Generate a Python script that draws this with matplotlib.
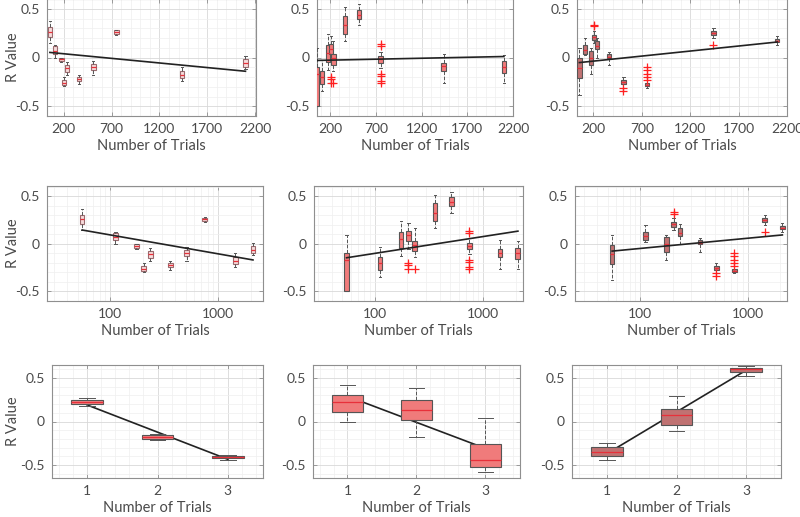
import numpy as np
import matplotlib
matplotlib.use('Agg')
import matplotlib.pyplot as plt
from matplotlib.ticker import MultipleLocator, FixedLocator, NullFormatter

plt.rcParams['font.family'] = ['Lato', 'DejaVu Sans']

# number of trials for each dataset
trials = [55, 112, 175, 205, 235, 360, 510, 750, 1440, 2100]

# dataset A (left column)
a_lo = [0.15, 0.0, -0.05, -0.29, -0.175, -0.27, -0.175, 0.23, -0.24, -0.115]
a_q1 = [0.21, 0.04, -0.04, -0.28, -0.15, -0.245, -0.125, 0.242, -0.215, -0.10]
a_med = [0.26, 0.07, -0.02, -0.26, -0.11, -0.22, -0.10, 0.26, -0.18, -0.06]
a_q3 = [0.31, 0.12, -0.005, -0.23, -0.075, -0.20, -0.065, 0.277, -0.14, -0.02]
a_hi = [0.37, 0.13, 0.0, -0.20, -0.045, -0.18, -0.035, 0.28, -0.10, 0.015]
a_out = [[], [], [], [], [], [], [], [], [], []]

# dataset B (middle column)
b_lo = [-0.5, -0.345, -0.125, -0.05, -0.135, 0.165, 0.33, -0.105, -0.265, -0.265]
b_q1 = [-0.5, -0.275, -0.045, 0.035, -0.075, 0.245, 0.40, -0.055, -0.14, -0.16]
b_med = [-0.17, -0.20, 0.05, 0.09, -0.01, 0.33, 0.44, -0.02, -0.09, -0.10]
b_q3 = [-0.10, -0.14, 0.13, 0.137, 0.035, 0.43, 0.49, 0.015, -0.055, -0.04]
b_hi = [0.095, -0.03, 0.24, 0.22, 0.165, 0.52, 0.55, 0.06, 0.04, 0.03]
b_out = [[], [], [], [-0.2, -0.22, -0.26], [-0.26], [], [],
         [0.14, 0.12, -0.17, -0.19, -0.24, -0.26], [], []]

# dataset C (right column)
c_lo = [-0.38, 0.025, -0.17, 0.145, 0.0, -0.08, -0.275, -0.31, 0.20, 0.13]
c_q1 = [-0.21, 0.04, -0.08, 0.18, 0.085, -0.005, -0.27, -0.29, 0.235, 0.155]
c_med = [-0.11, 0.08, 0.0, 0.21, 0.12, 0.01, -0.25, -0.28, 0.25, 0.17]
c_q3 = [-0.01, 0.13, 0.07, 0.235, 0.17, 0.04, -0.23, -0.26, 0.27, 0.19]
c_hi = [0.095, 0.20, 0.095, 0.27, 0.205, 0.06, -0.20, -0.26, 0.30, 0.22]
c_out = [[], [], [], [0.32, 0.335], [], [], [-0.31, -0.34],
         [-0.1, -0.13, -0.17, -0.2, -0.23], [0.125], []]

# trend lines (value at first and last trial count)
lin_fit = [[0.052, -0.141], [-0.03, 0.01], [-0.052, 0.159]]
log_fit = [[0.147, -0.168], [-0.145, 0.135], [-0.075, 0.095]]

# grouped data (bottom row), groups 1..3
groups = [1, 2, 3]
g_lo = [[0.18, -0.21, -0.44], [0.0, -0.175, -0.58], [-0.44, -0.115, 0.52]]
g_q1 = [[0.20, -0.20, -0.42], [0.115, 0.023, -0.52], [-0.40, -0.045, 0.57]]
g_med = [[0.22, -0.18, -0.41], [0.22, 0.135, -0.445], [-0.35, 0.08, 0.60]]
g_q3 = [[0.248, -0.16, -0.395], [0.30, 0.25, -0.26], [-0.29, 0.145, 0.62]]
g_hi = [[0.267, -0.145, -0.39], [0.42, 0.39, 0.045], [-0.25, 0.29, 0.64]]
g_fit = [[0.19, -0.435], [0.29, -0.31], [-0.37, 0.59]]

col_data = [(a_lo, a_q1, a_med, a_q3, a_hi, a_out),
            (b_lo, b_q1, b_med, b_q3, b_hi, b_out),
            (c_lo, c_q1, c_med, c_q3, c_hi, c_out)]

face_top = ['#f7dcdc', '#f07b7b', '#c07272']
edge_top = ['#9a6a6e', '#555555', '#555555']
face_bottom = ['#f08585', '#f07b7b', '#c07272']

W, H = 800, 517
# axes boxes in pixels: left, right, top, bottom
boxes_px = [
    [(47, 256, -1, 116), (317, 513, -1, 116), (577, 787, -1, 116)],
    [(47, 263, 186, 301), (314, 523, 186, 301), (575, 787, 186, 301)],
    [(52, 263, 365, 478), (313, 520, 365, 478), (572, 781, 365, 478)],
]
xlims_lin = [(25, 2210), (55, 2200), (30, 2200)]
xlims_log = [(26, 2600), (27.5, 2340), (24.8, 2320)]

text_c = '#4a4a4a'

fig = plt.figure(figsize=(W / 100, H / 100), dpi=100)


def style_axes(ax):
    for s in ax.spines.values():
        s.set_color('#8f8f8f')
        s.set_linewidth(0.8)
    ax.tick_params(which='major', direction='in', length=3, width=0.6,
                   color='#8f8f8f', labelcolor=text_c, labelsize=10,
                   top=True, right=True, pad=5)
    ax.tick_params(which='minor', length=0, top=True, right=True)
    ax.grid(True, which='major', color='#d8d8d8', linewidth=0.6)
    ax.grid(True, which='minor', color='#efefef', linewidth=0.5)
    ax.set_axisbelow(True)
    ax.set_xlabel('Number of Trials', fontsize=10.5, color=text_c, labelpad=3)


def add_ylabel(ax, row):
    l, r, t, b = boxes_px[row][0]
    ax.set_ylabel('R Value', fontsize=10.5, color=text_c)
    ax.yaxis.set_label_coords((20 - l) / (r - l), 0.5)


def draw_boxes(ax, pos, lo, q1, med, q3, hi, out, widths, face, edge, zorder=3):
    stats = []
    for i in range(len(pos)):
        stats.append(dict(whislo=lo[i], q1=q1[i], med=med[i], q3=q3[i],
                          whishi=hi[i], fliers=out[i]))
    ax.bxp(stats, positions=pos, widths=widths, capwidths=[w * 0.5 for w in widths],
           patch_artist=True, manage_ticks=False, zorder=zorder,
           boxprops=dict(facecolor=face, edgecolor=edge, linewidth=0.8),
           medianprops=dict(color='#e8303a', linewidth=0.9),
           whiskerprops=dict(color='#555555', linestyle='--', linewidth=0.7),
           capprops=dict(color='#555555', linewidth=0.7),
           flierprops=dict(marker='+', markeredgecolor='#ff2020', markersize=6,
                           markeredgewidth=0.9))


def make_ax(row, col):
    l, r, t, b = boxes_px[row][col]
    return fig.add_axes([l / W, 1 - b / H, (r - l) / W, (b - t) / H])


for col in range(3):
    lo, q1, med, q3, hi, out = col_data[col]

    # top row: linear x
    ax = make_ax(0, col)
    style_axes(ax)
    draw_boxes(ax, trials, lo, q1, med, q3, hi, out, [45] * len(trials),
               face_top[col], edge_top[col])
    ax.plot([trials[0], trials[-1]], lin_fit[col], color='#222222', linewidth=1.2, zorder=4)
    ax.set_xlim(*xlims_lin[col])
    ax.set_ylim(-0.6, 0.6)
    ax.set_xticks([200, 700, 1200, 1700, 2200])
    ax.xaxis.set_minor_locator(MultipleLocator(100))
    ax.set_yticks([-0.5, 0, 0.5])
    ax.set_yticklabels(['-0.5', '0', '0.5'])
    ax.yaxis.set_minor_locator(MultipleLocator(0.1))
    if col == 0:
        add_ylabel(ax, 0)

    # middle row: log x
    ax = make_ax(1, col)
    ax.set_xscale('log')
    style_axes(ax)
    draw_boxes(ax, trials, lo, q1, med, q3, hi, out, [p * 0.1 for p in trials],
               face_top[col], edge_top[col])
    xs = np.array([trials[0], trials[-1]])
    ax.plot(xs, log_fit[col], color='#222222', linewidth=1.2, zorder=4)
    ax.set_xlim(*xlims_log[col])
    ax.set_ylim(-0.6, 0.61)
    ax.xaxis.set_major_locator(FixedLocator([100, 1000]))
    ax.set_xticklabels(['100', '1000'])
    ax.xaxis.set_minor_formatter(NullFormatter())
    ax.set_yticks([-0.5, 0, 0.5])
    ax.set_yticklabels(['-0.5', '0', '0.5'])
    ax.yaxis.set_minor_locator(MultipleLocator(0.1))
    if col == 0:
        add_ylabel(ax, 1)

    # bottom row: grouped
    ax = make_ax(2, col)
    style_axes(ax)
    ax.plot([groups[0], groups[-1]], g_fit[col], color='#222222', linewidth=1.2, zorder=2)
    draw_boxes(ax, groups, g_lo[col], g_q1[col], g_med[col], g_q3[col], g_hi[col],
               [[], [], []], [0.45] * 3, face_bottom[col], '#555555')
    ax.set_xlim(0.5, 3.5)
    ax.set_ylim(-0.65, 0.65)
    ax.set_xticks(groups)
    ax.set_xticklabels(['1', '2', '3'])
    ax.xaxis.set_minor_locator(MultipleLocator(0.2))
    ax.set_yticks([-0.5, 0, 0.5])
    ax.set_yticklabels(['-0.5', '0', '0.5'])
    ax.yaxis.set_minor_locator(MultipleLocator(0.1))
    if col == 0:
        add_ylabel(ax, 2)

fig.savefig('out.png', dpi=100, facecolor='white')
